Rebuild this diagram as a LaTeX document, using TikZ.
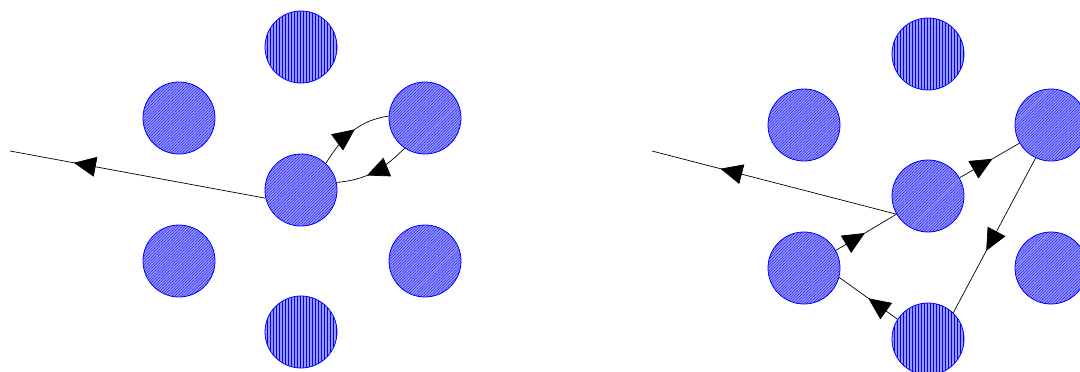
\documentclass[tikz,border=0pt]{standalone}
\usetikzlibrary{patterns.meta,decorations.markings,arrows.meta}
\tikzset{
  ball/.style={circle,minimum size=72pt,inner sep=0pt,draw=blue,line width=0.8pt,
    preaction={fill=blue!40!white}},
  diag/.style={ball,pattern={Lines[angle=45,distance=2pt,line width=0.35pt]},pattern color=blue},
  vert/.style={ball,pattern={Lines[angle=90,distance=3pt,line width=0.5pt]},pattern color=blue},
  ray/.style={line width=0.7pt,black},
  mid/.style={postaction={decorate},decoration={markings,
    mark=at position #1 with {\arrow{Triangle[length=22pt,width=20pt]}}}}
}
\begin{document}
\begin{tikzpicture}[x=1pt,y=-1pt]
\useasboundingbox (0,0) rectangle (1080,372);
\clip (0,0) rectangle (1080,372);
% left cluster
\node[vert] (t) at (301,47) {};
\node[diag] (ul) at (179,118) {};
\node[diag] (ur) at (425,118) {};
\node[diag] (c) at (301,190) {};
\node[diag] (ll) at (179,261) {};
\node[diag] (lr) at (425,261) {};
\node[vert] (b) at (301,332) {};
\coordinate (e1) at (10,151);
\draw[ray,mid=0.75] (c.193) -- (e1);
\draw[ray,mid=0.55] (c.47) to[out=58,in=188] (ur.177);
\draw[ray,mid=0.6] (ur.236) to[out=225,in=5] (c.12);
% right cluster
\node[vert] (t2) at (928,54) {};
\node[diag] (ul2) at (804,125) {};
\node[diag] (ur2) at (1051,125) {};
\node[diag] (c2) at (928,196) {};
\node[diag] (ll2) at (804,268) {};
\node[diag] (lr2) at (1051,268) {};
\node[vert] (b2) at (928,339) {};
\coordinate (e2) at (652,151);
\draw[ray,mid=0.72] (c2.210) -- (e2);
\draw[ray,mid=0.55] (c2.30) -- (ur2.210);
\draw[ray,mid=0.6] (ur2.245) -- (b2.46);
\draw[ray,mid=0.5] (b2.147) -- (ll2.345);
\draw[ray,mid=0.48] (ll2.29) -- (c2.210);
\end{tikzpicture}
\end{document}
